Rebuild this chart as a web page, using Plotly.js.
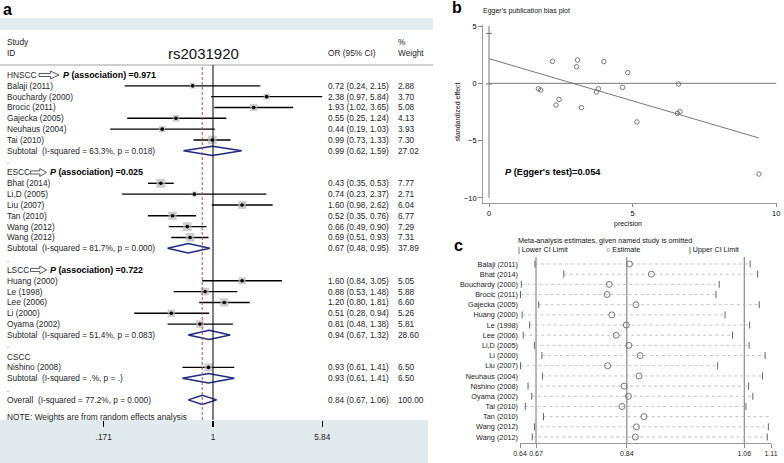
<!DOCTYPE html>
<html><head><meta charset="utf-8">
<script src="https://cdn.plot.ly/plotly-3.0.1.min.js"></script>
<style>html,body{margin:0;padding:0;background:#fff}#chart{width:784px;height:463px}</style>
</head><body><div id="chart"></div>
<script>
// ===== Panel a: forest plot data =====
const groupNames = ['HNSCC', 'ESCC', 'LSCC', 'CSCC'];
const groupP = ['0.971', '0.025', '0.722', null];

const hnsccStudies = ['Balaji (2011)', 'Bouchardy (2000)', 'Brocic (2011)', 'Gajecka (2005)', 'Neuhaus (2004)', 'Tai (2010)'];
const hnsccOR = [0.72, 2.38, 1.93, 0.55, 0.44, 0.99];
const hnsccLo = [0.24, 0.97, 1.02, 0.25, 0.19, 0.73];
const hnsccHi = [2.15, 5.84, 3.65, 1.24, 1.03, 1.33];
const hnsccW = [2.88, 3.70, 5.08, 4.13, 3.93, 7.30];

const esccStudies = ['Bhat (2014)', 'Li,D (2005)', 'Liu (2007)', 'Tan (2010)', 'Wang (2012)', 'Wang (2012)'];
const esccOR = [0.43, 0.74, 1.60, 0.52, 0.66, 0.69];
const esccLo = [0.35, 0.23, 0.98, 0.35, 0.49, 0.51];
const esccHi = [0.53, 2.37, 2.62, 0.76, 0.90, 0.93];
const esccW = [7.77, 2.71, 6.04, 6.77, 7.29, 7.31];

const lsccStudies = ['Huang (2000)', 'Le (1998)', 'Lee (2006)', 'Li (2000)', 'Oyama (2002)'];
const lsccOR = [1.60, 0.88, 1.20, 0.51, 0.81];
const lsccLo = [0.84, 0.53, 0.80, 0.28, 0.48];
const lsccHi = [3.05, 1.48, 1.81, 0.94, 1.38];
const lsccW = [5.05, 5.88, 6.60, 5.26, 5.81];

const csccStudies = ['Nishino (2008)'];
const csccOR = [0.93];
const csccLo = [0.61];
const csccHi = [1.41];
const csccW = [6.50];

const subtotalLabels = ['Subtotal  (I-squared = 63.3%, p = 0.018)', 'Subtotal  (I-squared = 81.7%, p = 0.000)',
  'Subtotal  (I-squared = 51.4%, p = 0.083)', 'Subtotal  (I-squared = .%, p = .)'];
const subtotalOR = [0.99, 0.67, 0.94, 0.93];
const subtotalLo = [0.62, 0.48, 0.67, 0.61];
const subtotalHi = [1.59, 0.95, 1.32, 1.41];
const subtotalW = [27.02, 37.89, 28.60, 6.50];

const overallLabel = 'Overall  (I-squared = 77.2%, p = 0.000)';
const overallOR = 0.84, overallLo = 0.67, overallHi = 1.06, overallW = 100.00;

const forestTickVals = [0.171, 1, 5.84];
const forestTickText = ['.171', '1', '5.84'];

// ===== Panel b: Egger's plot data =====
const eggerPrecision = [1.72, 1.80, 2.21, 2.33, 2.44, 3.05, 3.08, 3.22, 3.74, 3.81, 4.00, 4.65, 4.83, 5.15, 6.60, 6.56, 6.65, 9.40];
const eggerEffect = [-0.47, -0.58, 1.92, -1.89, -1.40, 1.45, 2.03, -2.12, -0.76, -0.47, 1.89, -0.35, 0.93, -3.37, -0.06, -2.62, -2.47, -7.91];
const eggerIntercept = 2.15;
const eggerSlope = -0.736;
const eggerInterceptCI = [-0.05, 4.36];
const eggerP = '0.054';
const eggerXTicks = [0, 5, 10];
const eggerYTicks = [-10, -5, 0, 5];

// ===== Panel c: sensitivity analysis data =====
const sensStudies = ['Balaji (2011)', 'Bhat (2014)', 'Bouchardy (2000)', 'Brocic (2011)', 'Gajecka (2005)', 'Huang (2000)',
  'Le (1998)', 'Lee (2006)', 'Li,D (2005)', 'Li (2000)', 'Liu (2007)', 'Neuhaus (2004)', 'Nishino (2008)',
  'Oyama (2002)', 'Tai (2010)', 'Tan (2010)', 'Wang (2012)', 'Wang (2012)'];
const sensLower = [0.668, 0.722, 0.6425, 0.641, 0.675, 0.644, 0.658, 0.646, 0.667, 0.681, 0.641, 0.682, 0.655, 0.662, 0.650, 0.684, 0.667, 0.663];
const sensEst = [0.845, 0.886, 0.807, 0.803, 0.857, 0.812, 0.839, 0.820, 0.844, 0.865, 0.804, 0.863, 0.835, 0.843, 0.831, 0.872, 0.858, 0.856];
const sensUpper = [1.071, 1.085, 1.013, 1.007, 1.088, 1.024, 1.070, 1.038, 1.069, 1.099, 1.010, 1.094, 1.068, 1.076, 1.063, 1.112, 1.105, 1.103];
const sensTickVals = [0.64, 0.67, 0.84, 1.06, 1.11];
const sensTickText = ['0.64', '0.67', '0.84', '1.06', '1.11'];

// ===== helpers (layout only) =====
const W = 784, H = 463;
const PX = p => p / W;
const PY = p => 1 - p / H;
const FONT = 'Liberation Sans, Arial, Helvetica, sans-serif';
const TXT = '#1e1e1e';
const nb = s => s.replace(/  /g, '\u00a0\u00a0');

const annotations = [];
const shapes = [];
const traces = [];

function ann(text, xpx, y, yref, opts) {
  annotations.push(Object.assign({
    text: text, x: PX(xpx), xref: 'paper', y: y, yref: yref,
    xanchor: 'left', yanchor: 'middle', showarrow: false, borderpad: 0,
    font: {family: FONT, size: 8.3, color: TXT}
  }, opts || {}));
}

// ===== Panel a: build rows =====
const groups = [
  {studies: hnsccStudies, or: hnsccOR, lo: hnsccLo, hi: hnsccHi, w: hnsccW},
  {studies: esccStudies, or: esccOR, lo: esccLo, hi: esccHi, w: esccW},
  {studies: lsccStudies, or: lsccOR, lo: lsccLo, hi: lsccHi, w: lsccW},
  {studies: csccStudies, or: csccOR, lo: csccLo, hi: csccHi, w: csccW}
];
const arrowPx = [[39, 59], [30.5, 46.5], [30.5, 46.5], null];
const pTextPx = [62, 48.5, 48.5, null];
const fmtCI = (o, l, h) => o.toFixed(2) + ' (' + l.toFixed(2) + ', ' + h.toFixed(2) + ')';

const studyRows = [], sOR = [], sLo = [], sHi = [], sW = [];
const diamonds = [];
let row = 0;
const colLabel = 6, colOR = 327, colW = 397.5;

groups.forEach((g, gi) => {
  ann(groupNames[gi], colLabel, row, 'y');
  if (groupP[gi]) {
    const [a0, a1] = arrowPx[gi];
    const am = a0 + (a1 - a0) * 0.58;
    const sh = 0.14, hh = 0.36;
    const path = `M ${PX(a0)},${row - sh} L ${PX(am)},${row - sh} L ${PX(am)},${row - hh} L ${PX(a1)},${row} ` +
      `L ${PX(am)},${row + hh} L ${PX(am)},${row + sh} L ${PX(a0)},${row + sh} Z`;
    shapes.push({type: 'path', xref: 'paper', yref: 'y', path: path,
      line: {color: '#444', width: 0.9}, fillcolor: '#ffffff', layer: 'above'});
    ann('<b><i>P</i> (association) =' + groupP[gi] + '</b>', pTextPx[gi], row, 'y',
      {font: {family: FONT, size: 8.9, color: '#000'}});
  }
  row++;
  g.studies.forEach((s, i) => {
    ann(s, colLabel, row, 'y');
    ann(fmtCI(g.or[i], g.lo[i], g.hi[i]), colOR, row, 'y');
    ann(g.w[i].toFixed(2), colW, row, 'y');
    studyRows.push(row); sOR.push(g.or[i]); sLo.push(g.lo[i]); sHi.push(g.hi[i]); sW.push(g.w[i]);
    row++;
  });
  ann(nb(subtotalLabels[gi]), colLabel, row, 'y');
  ann(fmtCI(subtotalOR[gi], subtotalLo[gi], subtotalHi[gi]), colOR, row, 'y');
  ann(subtotalW[gi].toFixed(2), colW, row, 'y');
  diamonds.push({r: row, o: subtotalOR[gi], l: subtotalLo[gi], h: subtotalHi[gi]});
  row++;
  ann('.', colLabel, row, 'y', {font: {family: FONT, size: 7, color: TXT}});
  row++;
});
ann(nb(overallLabel), colLabel, row, 'y');
ann(fmtCI(overallOR, overallLo, overallHi), colOR, row, 'y');
ann(overallW.toFixed(2), colW, row, 'y');
diamonds.push({r: row, o: overallOR, l: overallLo, h: overallHi});
const noteRow = row + 1.55;
ann('NOTE: Weights are from random effects analysis', colLabel, noteRow, 'y');

// forest traces
const ciX = [], ciY = [];
studyRows.forEach((r, i) => { ciX.push(sLo[i], sHi[i], null); ciY.push(r, r, null); });
traces.push({type: 'scatter', mode: 'lines', x: ciX, y: ciY, xaxis: 'x', yaxis: 'y',
  line: {color: '#000', width: 1.4}, hoverinfo: 'skip'});
traces.push({type: 'scatter', mode: 'markers', x: sOR, y: studyRows, xaxis: 'x', yaxis: 'y',
  marker: {symbol: 'square', size: sW.map(w => 3.2 * Math.sqrt(w)), color: '#b9b9b9', line: {width: 0}}});
traces.push({type: 'scatter', mode: 'markers', x: sOR, y: studyRows, xaxis: 'x', yaxis: 'y',
  marker: {symbol: 'circle', size: 3.6, color: '#000'}});
const dh = 0.43;
diamonds.forEach(d => {
  traces.push({type: 'scatter', mode: 'lines', xaxis: 'x', yaxis: 'y',
    x: [d.l, d.o, d.h, d.o, d.l], y: [d.r, d.r - dh, d.r, d.r + dh, d.r],
    line: {color: '#1b2a84', width: 1.5}, hoverinfo: 'skip'});
});

// forest background bands and lines
shapes.push({type: 'rect', xref: 'paper', yref: 'paper', x0: PX(0), x1: PX(433), y0: PY(30), y1: PY(18),
  fillcolor: '#e1eaec', line: {width: 0}, layer: 'below'});
shapes.push({type: 'rect', xref: 'paper', yref: 'paper', x0: PX(0), x1: PX(428), y0: PY(463), y1: PY(420),
  fillcolor: '#e1eaec', line: {width: 0}, layer: 'below'});
shapes.push({type: 'line', xref: 'paper', yref: 'paper', x0: PX(0), x1: PX(433), y0: PY(65), y1: PY(65),
  line: {color: '#cfcfcf', width: 2}});
shapes.push({type: 'line', xref: 'x', yref: 'paper', x0: 1, x1: 1, y0: PY(420), y1: PY(65),
  line: {color: '#000', width: 1}});
shapes.push({type: 'line', xref: 'x', yref: 'paper', x0: overallOR, x1: overallOR, y0: PY(420), y1: PY(65),
  line: {color: '#c8464a', width: 1, dash: '3px,2px'}});

// header texts
ann('<b>a</b>', 2, PY(9.5), 'paper', {font: {family: FONT, size: 16, color: '#000'}});
ann('Study', colLabel, PY(42), 'paper');
ann('ID', colLabel, PY(53), 'paper');
annotations.push({text: 'rs2031920', x: PX(203), xref: 'paper', y: PY(53), yref: 'paper', xanchor: 'center', yanchor: 'middle',
  showarrow: false, font: {family: FONT, size: 15, color: '#111'}});
ann('OR (95% CI)', colOR, PY(53), 'paper');
ann('%', colW, PY(42), 'paper');
ann('Weight', colW, PY(53), 'paper');

// ===== Panel b =====
traces.push({type: 'scatter', mode: 'markers', x: eggerPrecision, y: eggerEffect, xaxis: 'x2', yaxis: 'y2',
  marker: {symbol: 'circle-open', size: 4.5, color: '#6a6a6a', line: {width: 0.9}}});
const maxPrec = Math.max(...eggerPrecision);
traces.push({type: 'scatter', mode: 'lines', xaxis: 'x2', yaxis: 'y2',
  x: [0, maxPrec], y: [eggerIntercept, eggerIntercept + eggerSlope * maxPrec],
  line: {color: '#777', width: 1}, hoverinfo: 'skip'});
traces.push({type: 'scatter', mode: 'markers', xaxis: 'x2', yaxis: 'y2', x: [0, 0], y: eggerInterceptCI,
  marker: {symbol: 'line-ew', size: 4, line: {color: '#666', width: 1}}});
shapes.push({type: 'line', xref: 'x2', yref: 'y2', x0: 0, x1: 10, y0: 0, y1: 0, line: {color: '#777', width: 1}});
shapes.push({type: 'line', xref: 'x2', yref: 'y2', x0: 0, x1: 0, y0: -10, y1: 5, line: {color: '#777', width: 1}});
ann('<b>b</b>', 451, PY(8), 'paper', {font: {family: FONT, size: 16, color: '#000'}});
ann("Egger's publication bias plot", 482, PY(11), 'paper', {font: {family: FONT, size: 7, color: '#111'}});
ann("<b><i>P</i> (Egger's test)=" + eggerP + '</b>', 504, PY(172), 'paper', {font: {family: FONT, size: 9.2, color: '#000'}});
annotations.push({text: 'precision', x: PX(628), xref: 'paper', y: PY(223.5), yref: 'paper', xanchor: 'center', yanchor: 'middle',
  showarrow: false, font: {family: FONT, size: 7, color: '#111'}});
annotations.push({text: 'standardized effect', x: PX(457.5), xref: 'paper', y: PY(112), yref: 'paper', xanchor: 'center', yanchor: 'middle',
  textangle: -90, showarrow: false, font: {family: FONT, size: 7, color: '#111'}});

// ===== Panel c =====
const sensRows = sensStudies.map((s, i) => i);
const dotX = [], dotY = [];
sensRows.forEach(i => { dotX.push(sensLower[i], sensUpper[i], null); dotY.push(i, i, null); });
traces.push({type: 'scatter', mode: 'lines', x: dotX, y: dotY, xaxis: 'x3', yaxis: 'y3',
  line: {color: '#b5b5b5', width: 0.8, dash: 'dot'}, hoverinfo: 'skip'});
traces.push({type: 'scatter', mode: 'markers', x: sensLower.concat(sensUpper), y: sensRows.concat(sensRows), xaxis: 'x3', yaxis: 'y3',
  marker: {symbol: 'line-ns', size: 5, line: {color: '#666', width: 1}}});
traces.push({type: 'scatter', mode: 'markers', x: sensEst, y: sensRows, xaxis: 'x3', yaxis: 'y3',
  marker: {symbol: 'circle-open', size: 6, color: '#666', line: {width: 0.9}}});
[overallLo, overallOR, overallHi].forEach(v => {
  shapes.push({type: 'line', xref: 'x3', yref: 'paper', x0: v, x1: v, y0: PY(443), y1: PY(257),
    line: {color: '#8a8a8a', width: 1.2}, layer: 'below'});
});
ann('<b>c</b>', 453, PY(245), 'paper', {font: {family: FONT, size: 16, color: '#000'}});
ann('Meta-analysis estimates, given named study is omitted', 517, PY(240.5), 'paper', {font: {family: FONT, size: 7.2, color: '#111'}});
ann('| Lower CI Limit', 517, PY(249.5), 'paper', {font: {family: FONT, size: 7.2, color: '#111'}});
ann('\u25CB Estimate', 605, PY(249.5), 'paper', {font: {family: FONT, size: 7.2, color: '#111'}});
ann('| Upper CI Limit', 688, PY(249.5), 'paper', {font: {family: FONT, size: 7.2, color: '#111'}});

// ===== layout =====
const rowTop = 75, rowStep = 10.83;
const smallTick = {family: FONT, size: 7, color: '#222'};
const eggerTick = {family: FONT, size: 7.4, color: '#000'};
const layout = {
  width: W, height: H, margin: {l: 0, r: 0, t: 0, b: 0}, paper_bgcolor: '#fff', plot_bgcolor: 'rgba(0,0,0,0)',
  showlegend: false, font: {family: FONT, color: TXT},
  xaxis: {domain: [PX(3), PX(433)], type: 'log', range: [(3 - 213) / 142.5, (433 - 213) / 142.5],
    tickmode: 'array', tickvals: forestTickVals, ticktext: forestTickText, tickangle: 0,
    ticks: 'outside', ticklen: 6, tickwidth: 1.3, tickcolor: '#000', showline: false, showgrid: false, zeroline: false,
    ticklabelstandoff: 3, tickfont: {family: FONT, size: 8.3, color: TXT}, anchor: 'y', fixedrange: true},
  yaxis: {domain: [PY(420), PY(65)], range: [(420 - rowTop) / rowStep, (65 - rowTop) / rowStep],
    visible: false, showgrid: false, zeroline: false, anchor: 'x'},
  xaxis2: {domain: [PX(483), PX(777)], range: [-0.21, 10.03], tickvals: eggerXTicks,
    ticks: 'outside', ticklen: 3, tickcolor: '#888', showline: true, linecolor: '#999', linewidth: 1,
    showgrid: false, zeroline: false, anchor: 'y2', tickfont: eggerTick, tickangle: 0},
  yaxis2: {domain: [PY(203), PY(25)], range: [-10.44, 5.09], tickvals: eggerYTicks,
    ticks: 'outside', ticklen: 4, tickcolor: '#888', showline: true, linecolor: '#999', linewidth: 1,
    showgrid: false, zeroline: false, anchor: 'x2', tickfont: eggerTick},
  xaxis3: {domain: [PX(520), PX(771)], range: [0.64, 1.11], tickmode: 'array', tickvals: sensTickVals, ticktext: sensTickText,
    ticks: 'outside', ticklen: 4, tickcolor: '#888', showline: true, linecolor: '#999', linewidth: 1, tickangle: 0,
    showgrid: false, zeroline: false, tickfont: smallTick, anchor: 'y3'},
  yaxis3: {domain: [PY(443), PY(257)], range: [17 + (443 - 437) / 10.18, -(264 - 257) / 10.18],
    tickmode: 'array', tickvals: sensRows, ticktext: sensStudies, ticks: '', showline: false, showgrid: false, zeroline: false,
    ticklabelstandoff: 1, tickfont: {family: FONT, size: 7.3, color: '#222'}, anchor: 'x3'},
  shapes: shapes, annotations: annotations
};
Plotly.newPlot('chart', traces, layout, {staticPlot: true, displayModeBar: false});
</script></body></html>
